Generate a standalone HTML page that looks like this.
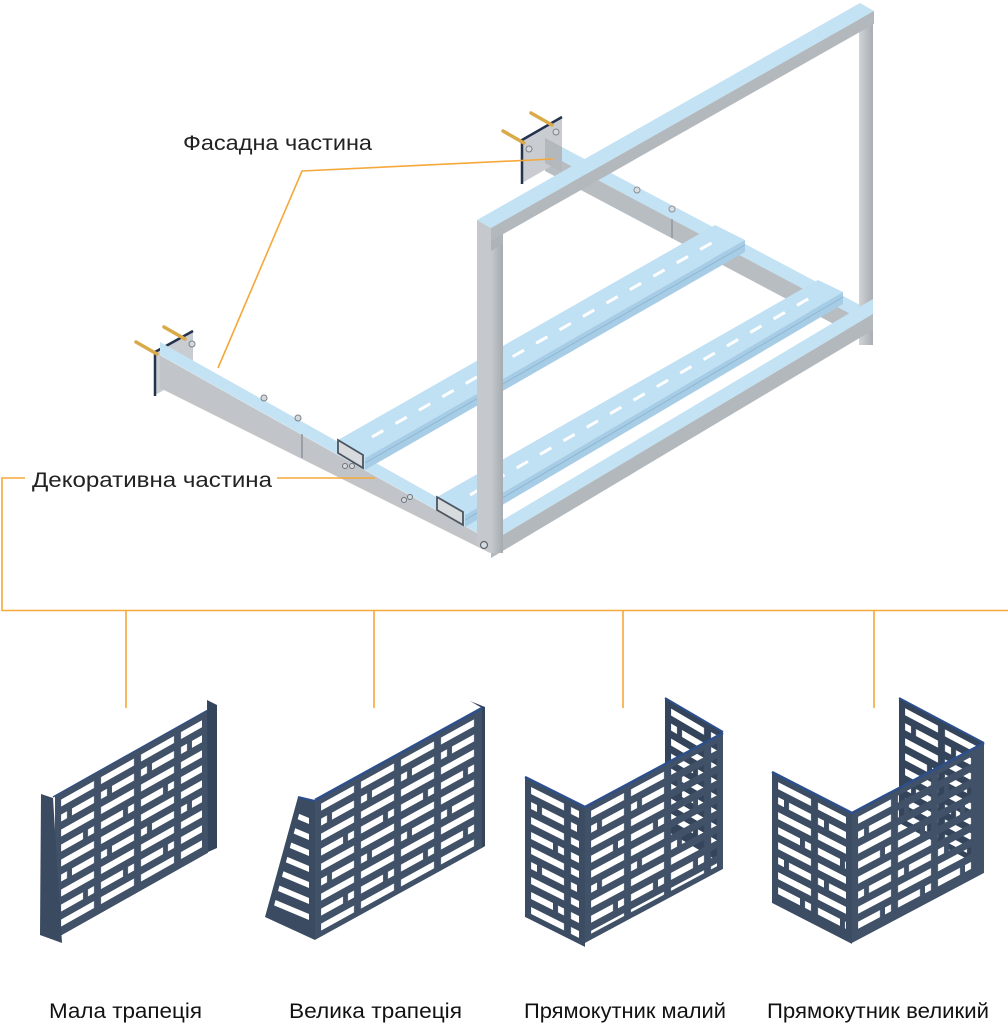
<!DOCTYPE html>
<html><head><meta charset="utf-8"><style>
html,body{margin:0;padding:0;background:#fff;}
svg{display:block;}
text{font-family:"Liberation Sans","DejaVu Sans",sans-serif;}
</style></head><body>
<svg width="1008" height="1024" viewBox="0 0 1008 1024" xmlns="http://www.w3.org/2000/svg">
<defs>
  <pattern id="sp" patternUnits="userSpaceOnUse" x="4" y="3" width="40" height="60">
    <rect x="2" y="4" width="33" height="7" fill="#000"/>
    <rect x="2" y="19" width="6" height="7" fill="#000"/>
    <rect x="13" y="19" width="22" height="7" fill="#000"/>
    <rect x="2" y="34" width="33" height="7" fill="#000"/>
    <rect x="2" y="49" width="22" height="7" fill="#000"/>
    <rect x="29" y="49" width="6" height="7" fill="#000"/>
  </pattern>
  <mask id="m1" maskUnits="userSpaceOnUse" x="-5" y="-5" width="170" height="160" maskContentUnits="userSpaceOnUse"><rect width="153" height="143" fill="#fff"/><rect x="6" y="6" width="141" height="131" fill="url(#sp)"/></mask>
  <mask id="m2" maskUnits="userSpaceOnUse" x="-5" y="-5" width="180" height="160" maskContentUnits="userSpaceOnUse"><rect width="167" height="140" fill="#fff"/><rect x="6" y="6" width="155" height="128" fill="url(#sp)"/></mask>
  <mask id="m3b" maskUnits="userSpaceOnUse" x="-5" y="-5" width="70" height="150" maskContentUnits="userSpaceOnUse"><rect width="58" height="132" fill="#fff"/><rect x="6" y="6" width="46" height="120" fill="url(#sp)"/></mask>
  <mask id="m3l" maskUnits="userSpaceOnUse" x="-5" y="-5" width="75" height="155" maskContentUnits="userSpaceOnUse"><rect width="60" height="140" fill="#fff"/><rect x="6" y="6" width="48" height="128" fill="url(#sp)"/></mask>
  <mask id="m3m" maskUnits="userSpaceOnUse" x="-5" y="-5" width="150" height="150" maskContentUnits="userSpaceOnUse"><rect width="138" height="136" fill="#fff"/><rect x="6" y="6" width="126" height="124" fill="url(#sp)"/></mask>
  <mask id="m4b" maskUnits="userSpaceOnUse" x="-5" y="-5" width="100" height="140" maskContentUnits="userSpaceOnUse"><rect width="85" height="125" fill="#fff"/><rect x="6" y="6" width="73" height="113" fill="url(#sp)"/></mask>
  <mask id="m4l" maskUnits="userSpaceOnUse" x="-5" y="-5" width="95" height="145" maskContentUnits="userSpaceOnUse"><rect width="80" height="131" fill="#fff"/><rect x="6" y="6" width="68" height="119" fill="url(#sp)"/></mask>
  <mask id="m4m" maskUnits="userSpaceOnUse" x="-5" y="-5" width="145" height="145" maskContentUnits="userSpaceOnUse"><rect width="132" height="130" fill="#fff"/><rect x="6" y="6" width="120" height="118" fill="url(#sp)"/></mask>
  <clipPath id="c2s"><polygon points="301,807 309,810 309,932 272,913"/></clipPath>
  <linearGradient id="gpost" x1="0" y1="0" x2="1" y2="0">
    <stop offset="0" stop-color="#c6cacd"/><stop offset="0.55" stop-color="#b3b8bd"/><stop offset="1" stop-color="#a6abb1"/>
  </linearGradient>
  <linearGradient id="grpost" x1="0" y1="0" x2="1" y2="0">
    <stop offset="0" stop-color="#d0d3d6"/><stop offset="1" stop-color="#a9aeb4"/>
  </linearGradient>
</defs>

<!-- ================= FRAME ================= -->
<polygon points="545,138 862,306 862,320 545,152" fill="#c3e2f4"/>
<polygon points="545,152 862,320 862,339 545,171" fill="#b8bdc2"/>
<line x1="672" y1="219" x2="672" y2="238" stroke="#7d848b" stroke-width="1"/>
<circle cx="637" cy="190" r="3" fill="#d8dde1" stroke="#8a9299" stroke-width="1"/>
<circle cx="672" cy="209" r="3" fill="#d8dde1" stroke="#8a9299" stroke-width="1"/>
<polygon points="522,140 562,117 562,160 522,183" fill="#c9cdd1"/>
<polygon points="545,138 562,147 562,172 545,163" fill="#b3b8bd"/>
<polyline points="522,184 522,140 562,117" fill="none" stroke="#24324d" stroke-width="2.5"/>
<line x1="503" y1="131" x2="524" y2="143" stroke="#d9a94a" stroke-width="3.5" stroke-linecap="round"/>
<line x1="531" y1="113" x2="552" y2="125" stroke="#d9a94a" stroke-width="3.5" stroke-linecap="round"/>
<circle cx="529" cy="149" r="3" fill="#d6dadd" stroke="#7b838a"/>
<circle cx="556" cy="132" r="3" fill="#d6dadd" stroke="#7b838a"/>

<rect x="859" y="11" width="14" height="334" fill="url(#grpost)"/>

<polygon points="155,352 193,331 193,374 155,395" fill="#c9cdd1"/>
<polyline points="155,396 155,352 193,331" fill="none" stroke="#24324d" stroke-width="2.5"/>
<line x1="136" y1="342" x2="157" y2="354" stroke="#d9a94a" stroke-width="3.5" stroke-linecap="round"/>
<line x1="164" y1="327" x2="185" y2="339" stroke="#d9a94a" stroke-width="3.5" stroke-linecap="round"/>

<polygon points="160,342 490,527 490,540 160,355" fill="#c3e2f4"/>
<polygon points="160,355 490,540 490,553 160,388" fill="#c1c5c9"/>
<line x1="160" y1="355" x2="490" y2="540" stroke="#d6e6ef" stroke-width="1"/>
<line x1="302" y1="434" x2="302" y2="458" stroke="#7f868d" stroke-width="1.2"/>
<circle cx="192" cy="344" r="3" fill="#d6dadd" stroke="#7b838a"/>
<circle cx="264" cy="398" r="3" fill="#d6dadd" stroke="#7b838a"/>
<circle cx="298" cy="418" r="3" fill="#d6dadd" stroke="#7b838a"/>
<circle cx="345" cy="466" r="2.5" fill="#d6dadd" stroke="#6b737a"/>
<circle cx="352" cy="466" r="2.5" fill="#d6dadd" stroke="#6b737a"/>
<circle cx="404" cy="500" r="2.5" fill="#d6dadd" stroke="#6b737a"/>
<circle cx="410" cy="497" r="2.5" fill="#d6dadd" stroke="#6b737a"/>

<polygon points="338,440 715,225 745,240 365,458" fill="#c0e0f3"/>
<polygon points="365,458 745,240 745,252 365,470" fill="#a7cde6"/>
<line x1="365" y1="463" x2="745" y2="245" stroke="#8db7d3" stroke-width="1"/>
<line x1="372" y1="437" x2="722" y2="237" stroke="#fff" stroke-width="3" stroke-dasharray="13 14"/>
<polygon points="338,440 363,455 363,468 338,453" fill="#d7dbde" stroke="#4d5560" stroke-width="1.8"/>

<polygon points="437,497 818,280 843,292 465,515" fill="#c0e0f3"/>
<polygon points="465,515 843,292 843,304 465,527" fill="#a7cde6"/>
<line x1="465" y1="520" x2="843" y2="297" stroke="#8db7d3" stroke-width="1"/>
<line x1="470" y1="495" x2="820" y2="292" stroke="#fff" stroke-width="3" stroke-dasharray="13 14"/>
<polygon points="437,497 463,512 463,525 437,510" fill="#d7dbde" stroke="#4d5560" stroke-width="1.8"/>

<polygon points="491,527 873,299 873,314 491,542" fill="#c3e2f4"/>
<polygon points="491,542 873,314 873,330 491,558" fill="#b3b8bd"/>

<polygon points="477,220 491,228 491,553 477,546" fill="#c5c9cd"/>
<rect x="491" y="228" width="12" height="325" fill="url(#gpost)"/>
<circle cx="484" cy="545" r="3.5" fill="#d6dadd" stroke="#5e666e" stroke-width="1.2"/>

<polygon points="477,220 860,3 874,11 491,228" fill="#c3e2f4"/>
<polygon points="491,228 874,11 874,24 491,241" fill="#b3b8bd"/>
<polygon points="491,241 503,234 503,244 491,251" fill="#aeb3b8"/>

<!-- ================= LABELS / CONNECTORS ================= -->
<g fill="none" stroke="#f5a83a" stroke-width="1.6">
  <polyline points="553,159 302,171 218,368"/>
  <polyline points="25,478 2,478 2,610.5 1008,610.5"/>
  <line x1="277" y1="478" x2="375" y2="478"/>
  <line x1="126" y1="610" x2="126" y2="708"/>
  <line x1="374" y1="610" x2="374" y2="708"/>
  <line x1="623" y1="610" x2="623" y2="708"/>
  <line x1="874" y1="610" x2="874" y2="708"/>
</g>
<text x="183" y="150" font-size="21" fill="#222" textLength="189" lengthAdjust="spacingAndGlyphs">Фасадна частина</text>
<text x="32" y="487" font-size="21" fill="#222" textLength="240" lengthAdjust="spacingAndGlyphs">Декоративна частина</text>

<!-- ================= PANEL 1 ================= -->
<g transform="matrix(1,-0.563,0,1,55,796)"><rect width="153" height="143" fill="#405168" mask="url(#m1)"/></g>
<polygon points="41,794 53,798 62,943 40,935" fill="#3a4a60"/>
<polygon points="207,700 217,705 217,848 208,852" fill="#34445a"/>
<line x1="53" y1="797" x2="208" y2="710" stroke="#34507f" stroke-width="1.5"/>

<!-- ================= PANEL 2 ================= -->
<polygon points="298,797 315,801 315,940 265,917" fill="#3b4c62"/>
<g clip-path="url(#c2s)" fill="#fff">
  <polygon points="255,795.3 309,818 309,824 255,801.3"/>
  <polygon points="255,811.3 309,834 309,840 255,817.3"/>
  <polygon points="255,827.3 309,850 309,856 255,833.3"/>
  <polygon points="255,843.3 309,866 309,872 255,849.3"/>
  <polygon points="255,859.3 309,882 309,888 255,865.3"/>
  <polygon points="255,875.3 309,898 309,904 255,881.3"/>
  <polygon points="255,891.3 309,914 309,920 255,897.3"/>
</g>
<g transform="matrix(1,-0.551,0,1,315,800)"><rect width="167" height="140" fill="#405168" mask="url(#m2)"/></g>
<polygon points="470,701 485,707 485,846 482,848 482,708" fill="#34445a"/>
<line x1="315" y1="800" x2="482" y2="708" stroke="#2d4f8c" stroke-width="2.5"/>
<line x1="298" y1="797" x2="315" y2="801" stroke="#2d4f8c" stroke-width="2"/>

<!-- ================= PANEL 3 ================= -->
<g transform="matrix(1,0.586,0,1,665,698)"><rect width="58" height="132" fill="#34445a" mask="url(#m3b)"/></g>
<g transform="matrix(1,0.5,0,1,525,777)"><rect width="60" height="140" fill="#3c4d63" mask="url(#m3l)"/></g>
<g transform="matrix(1,-0.536,0,1,585,807)"><rect width="138" height="136" fill="#405168" mask="url(#m3m)"/></g>
<polyline points="525,777 585,807 723,733" fill="none" stroke="#2d4f8c" stroke-width="2.5"/>
<line x1="665" y1="698" x2="723" y2="732" stroke="#2d4f8c" stroke-width="2"/>

<!-- ================= PANEL 4 ================= -->
<g transform="matrix(1,0.53,0,1,899,698)"><rect width="85" height="125" fill="#34445a" mask="url(#m4b)"/></g>
<g transform="matrix(1,0.5125,0,1,772,772)"><rect width="80" height="131" fill="#3c4d63" mask="url(#m4l)"/></g>
<g transform="matrix(1,-0.53,0,1,852,813)"><rect width="132" height="130" fill="#405168" mask="url(#m4m)"/></g>
<polyline points="772,772 852,813 984,743" fill="none" stroke="#2d4f8c" stroke-width="2.5"/>
<line x1="899" y1="698" x2="984" y2="743" stroke="#2d4f8c" stroke-width="2"/>

<!-- ================= BOTTOM LABELS ================= -->
<g font-size="21" fill="#111">
  <text x="49" y="1018" textLength="153" lengthAdjust="spacingAndGlyphs">Мала трапеція</text>
  <text x="289" y="1018" textLength="173" lengthAdjust="spacingAndGlyphs">Велика трапеція</text>
  <text x="524" y="1018" textLength="202" lengthAdjust="spacingAndGlyphs">Прямокутник малий</text>
  <text x="767" y="1018" textLength="222" lengthAdjust="spacingAndGlyphs">Прямокутник великий</text>
</g>
</svg>
</body></html>
